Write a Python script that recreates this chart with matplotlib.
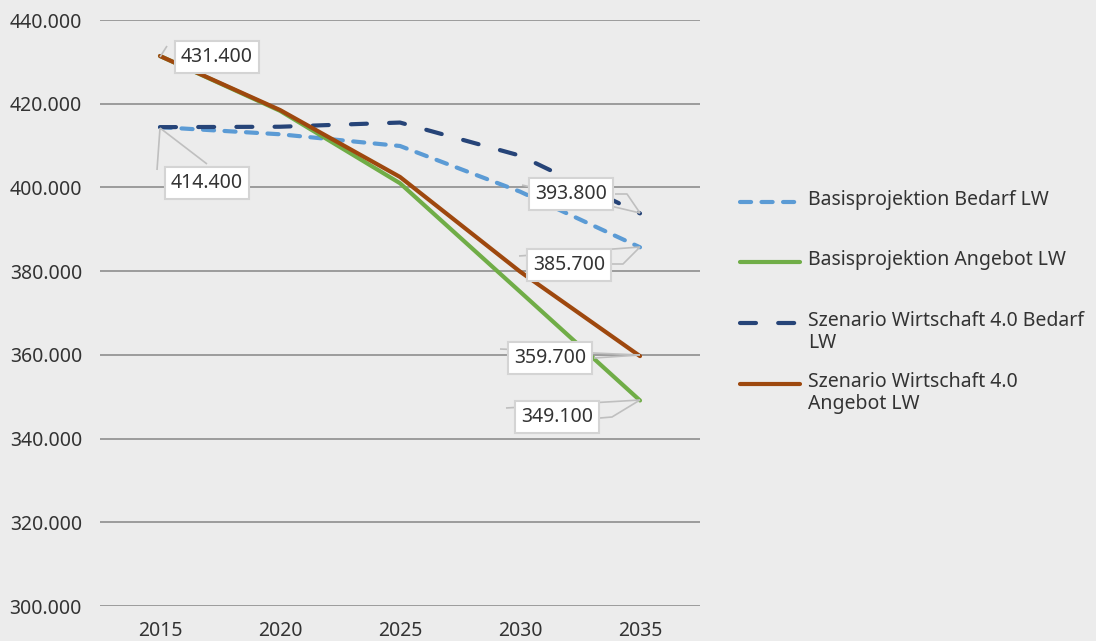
import matplotlib
matplotlib.use("Agg")
import matplotlib.pyplot as plt
import numpy as np
from matplotlib.lines import Line2D

plt.rcParams['font.family'] = ['Noto Sans', 'DejaVu Sans']
plt.rcParams['lines.scale_dashes'] = False

years = ['2015', '2020', '2025', '2030', '2035']
basis_bedarf = [414400, 412700, 409900, 399000, 385700]
basis_angebot = [431400, 418300, 401000, 375100, 349100]
szen_bedarf = [414400, 414500, 415500, 407600, 393800]
szen_angebot = [431400, 418500, 402500, 379900, 359700]
series_names = ['Basisprojektion Bedarf LW', 'Basisprojektion Angebot LW',
                'Szenario Wirtschaft 4.0 Bedarf\nLW', 'Szenario Wirtschaft 4.0\nAngebot LW']
yticks = [300000, 320000, 340000, 360000, 380000, 400000, 420000, 440000]

BG = '#ececec'
TXT = '#333333'
FS = 14
colors = ['#5b9bd5', '#70ad47', '#264478', '#9e480e']
dashes = [(0, (8, 7.5)), '-', (0, (11.5, 16)), '-']
series = [basis_bedarf, basis_angebot, szen_bedarf, szen_angebot]

W, H = 1096, 641
fig = plt.figure(figsize=(W / 100, H / 100), dpi=100, facecolor=BG)
ax = fig.add_axes([100 / W, 1 - 606 / H, 600 / W, 586 / H], facecolor=BG)
x = np.arange(len(years))
ax.set_xlim(-0.5, len(years) - 0.5)
ax.set_ylim(300000, 440000)
for s in ax.spines.values():
    s.set_visible(False)
ax.set_yticks(yticks)
ax.set_yticklabels([f"{v:,}".replace(',', '.') for v in yticks])
ax.set_xticks(x)
ax.set_xticklabels(years)
ax.tick_params(axis='both', length=0, labelsize=FS, colors=TXT)
ax.tick_params(axis='y', pad=13)
ax.tick_params(axis='x', pad=11)
for v in yticks:
    ax.axhline(v, color='#858585', lw=1.1, zorder=1)

for i, (vals, c, ls) in enumerate(zip(series, colors, dashes)):
    ax.plot(x, vals, color=c, lw=3.0, linestyle=ls, dash_capstyle='round',
            solid_capstyle='round', solid_joinstyle='round', dash_joinstyle='round',
            zorder=3 + i)

# data labels
def px2d(px, py):
    return (px - 160) / 120.0, 440000 - (py - 20) * 140000 / 586.0

labels = [
    (3, 0, (217, 57), [[(160, 57), (167, 46)]]),
    (2, 0, (207, 183), [[(160, 128), (207, 164)], [(160, 128), (157, 170)]]),
    (2, 4, (571, 194), [[(640, 213), (522, 185)], [(640, 213), (627, 194), (615, 194)]]),
    (0, 4, (569, 265), [[(640, 247), (519, 256)], [(640, 247), (623, 264), (612, 264)]]),
    (3, 4, (550, 358), [[(640, 355), (500, 349)], [(640, 355), (594, 358)]]),
    (1, 4, (557, 417), [[(640, 400), (506, 408)], [(640, 400), (612, 417), (600, 418)]]),
]
for si, xi, (cx, cy), leaders in labels:
    for ld in leaders:
        pts = [px2d(*p) for p in ld]
        ax.plot([p[0] for p in pts], [p[1] for p in pts], color='#bfbfbf', lw=1.2,
                zorder=8, solid_capstyle='butt')
    val = series[si][xi]
    tx, ty = px2d(cx, cy)
    ax.text(tx, ty, f"{val:,}".replace(',', '.'), ha='center', va='center',
            fontsize=FS, color=TXT, zorder=9,
            bbox=dict(boxstyle='square,pad=0.32', fc='white', ec='#d4d4d4', lw=1.5))

# legend (manual)
rows = [202, 262, 323, 384]
for c, ls, name, ry in zip(colors, dashes, series_names, rows):
    fy = 1 - ry / H
    fig.add_artist(Line2D([740 / W, 800 / W], [fy, fy], color=c, lw=3.0, linestyle=ls,
                          dash_capstyle='round', solid_capstyle='round',
                          transform=fig.transFigure))
    fig.text(808 / W, fy + 12 / H, name, ha='left', va='top', fontsize=FS, color=TXT,
             linespacing=1.1)

fig.savefig('out.png', dpi=100, facecolor=BG)
